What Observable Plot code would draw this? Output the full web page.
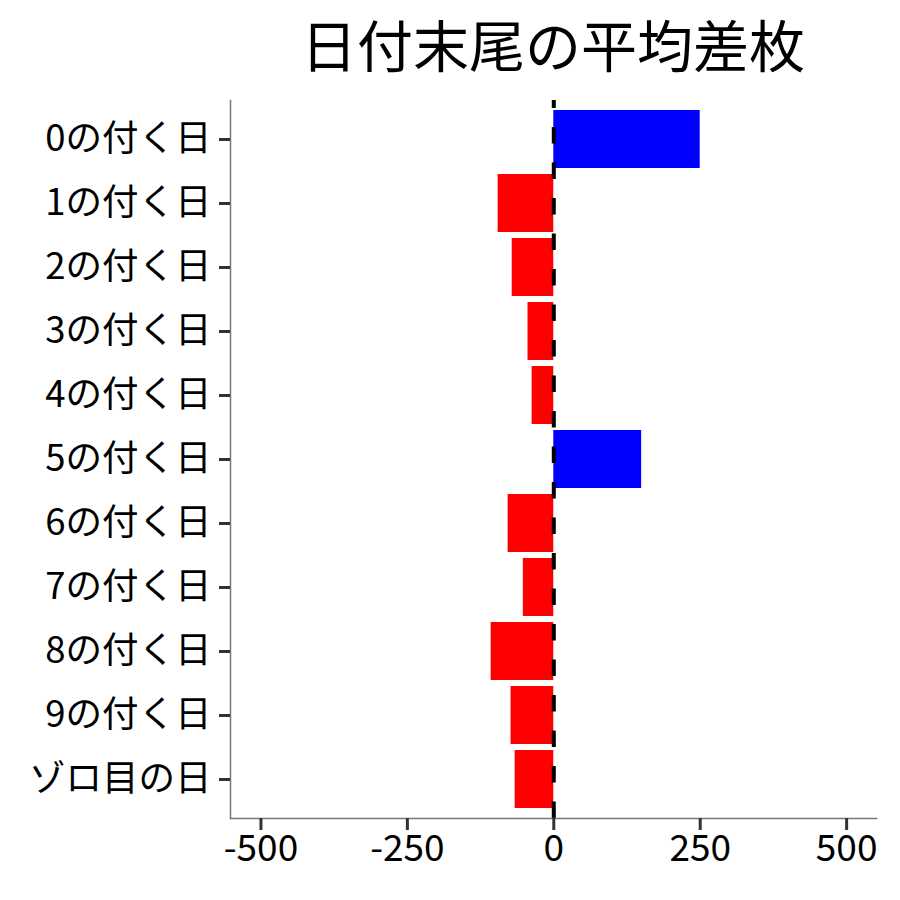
<!DOCTYPE html>
<html>
<head>
<meta charset="utf-8">
<script src="https://cdn.jsdelivr.net/npm/d3@7"></script>
<script src="https://cdn.jsdelivr.net/npm/@observablehq/plot@0.6"></script>
<style>
  html, body { margin: 0; padding: 0; background: #fff; }
  #wrap { position: relative; width: 900px; height: 900px; font-family: "Noto Sans CJK JP", "Noto Sans", sans-serif; }
  #title { position: absolute; left: 230px; width: 646px; top: 15px; text-align: center; font-size: 56px; line-height: 56px; color: #000; z-index: 2; }
  #chart { position: absolute; left: 0; top: 0; }
</style>
</head>
<body>
<div id="wrap">
  <div id="title">日付末尾の平均差枚</div>
  <div id="chart"></div>
</div>
<script>
const categories = ["0の付く日", "1の付く日", "2の付く日", "3の付く日", "4の付く日", "5の付く日", "6の付く日", "7の付く日", "8の付く日", "9の付く日", "ゾロ目の日"];
const values = [250, -95, -71, -44, -37, 150, -78, -52, -107, -73, -66];
const xTicks = [-500, -250, 0, 250, 500];
const xDomain = [-552, 551];
const posColor = "blue";
const negColor = "red";

const data = categories.map((c, i) => ({label: c, value: values[i]}));

const chart = Plot.plot({
  width: 900,
  height: 900,
  marginLeft: 230,
  marginRight: 24,
  marginTop: 100,
  marginBottom: 82,
  style: {fontFamily: '"Noto Sans CJK JP", "Noto Sans", sans-serif', color: "#000", background: "#fff"},
  x: {domain: xDomain},
  y: {domain: categories, paddingInner: 0.1, paddingOuter: 0.15},
  color: {type: "identity"},
  marks: [
    Plot.barX(data, {y: "label", x: "value", fill: d => d.value > 0 ? posColor : negColor}),
    Plot.ruleX([0], {stroke: "#000", strokeWidth: 4, strokeDasharray: "16.5,19", strokeDashoffset: 8.5}),
    Plot.frame({anchor: "left", stroke: "#777", strokeWidth: 1.5}),
    Plot.frame({anchor: "bottom", stroke: "#777", strokeWidth: 1.5}),
    Plot.axisX({ticks: xTicks, tickFormat: d => String(d), tickSize: 12, tickPadding: 4, fontSize: 37, stroke: "#333", strokeWidth: 3, label: null}),
    Plot.axisY({tickSize: 11, tickPadding: 8, fontSize: 36.5, stroke: "#333", strokeWidth: 3, label: null})
  ]
});
document.getElementById("chart").appendChild(chart);
</script>
</body>
</html>
